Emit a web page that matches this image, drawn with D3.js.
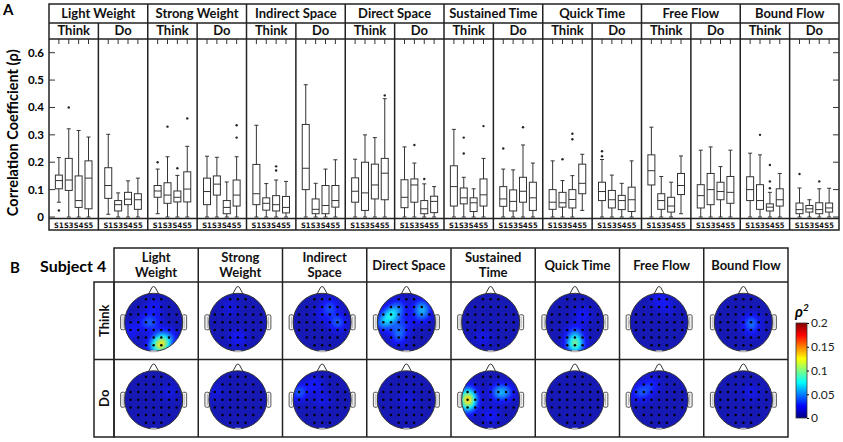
<!DOCTYPE html>
<html lang="en">
<head>
  <meta charset="UTF-8">
  <title>Correlation coefficients and topographic maps</title>
  <script src="https://d3js.org/d3.v7.min.js"></script>
  <style>
    body { margin: 0; background: #fff; }
    svg { display: block; font-family: Lato, 'Open Sans', 'DejaVu Sans', sans-serif; }
    .frame { fill: none; stroke: #222; stroke-width: 1.5; }
    .rule { stroke: #222; stroke-width: 1.5; }
    .hdr { font-weight: bold; font-size: 13px; text-anchor: middle; fill: #111; }
    .box { fill: none; stroke: #333; stroke-width: 1; }
  </style>
</head>
<body>
<svg width="843" height="442"></svg>
<script>
// ---------- data ----------
const efforts = ['Light Weight', 'Strong Weight', 'Indirect Space', 'Direct Space',
                 'Sustained Time', 'Quick Time', 'Free Flow', 'Bound Flow'];
const conditions = ['Think', 'Do'];
const subjects = ['S1', 'S3', 'S4', 'S5'];
const yTicks = [0, 0.1, 0.2, 0.3, 0.4, 0.5, 0.6];

// each box: [whisker low, q1, median, q3, whisker high, outliers]
const lightWeight = [
  [[0.054, 0.103, 0.133, 0.153, 0.217, [0.024]], [0, 0.097, 0.135, 0.214, 0.322, [0.40]],
   [0, 0.035, 0.06, 0.15, 0.316, []], [0, 0.03, 0.142, 0.205, 0.292, []]],
  [[0.01, 0.068, 0.115, 0.18, 0.302, []], [0, 0.022, 0.045, 0.06, 0.088, []],
   [0, 0.045, 0.065, 0.09, 0.132, []], [0, 0.028, 0.063, 0.085, 0.142, []]]
];
const strongWeight = [
  [[0.012, 0.072, 0.095, 0.115, 0.175, [0.2]], [0, 0.05, 0.08, 0.125, 0.22, [0.33]],
   [0, 0.055, 0.072, 0.095, 0.152, [0.178]], [0, 0.055, 0.102, 0.165, 0.258, [0.36]]],
  [[0, 0.045, 0.093, 0.142, 0.222, []], [0, 0.08, 0.12, 0.15, 0.218, []],
   [0, 0.012, 0.035, 0.06, 0.128, []], [0, 0.04, 0.08, 0.135, 0.22, [0.29, 0.335]]]
];
const indirectSpace = [
  [[0, 0.045, 0.085, 0.192, 0.335, []], [0, 0.025, 0.05, 0.07, 0.122, []],
   [0, 0.022, 0.045, 0.078, 0.135, [0.17, 0.185]], [0, 0.015, 0.035, 0.075, 0.13, []]],
  [[0, 0.10, 0.178, 0.338, 0.483, []], [0, 0.012, 0.028, 0.066, 0.123, []],
   [0, 0.012, 0.042, 0.115, 0.175, []], [0, 0.036, 0.06, 0.115, 0.209, []]]
];
const directSpace = [
  [[0, 0.054, 0.094, 0.143, 0.211, []], [0, 0.024, 0.088, 0.2, 0.3, []],
   [0, 0.066, 0.117, 0.193, 0.29, []], [0, 0.063, 0.16, 0.214, 0.432, [0.444]]],
  [[0, 0.034, 0.072, 0.136, 0.256, []], [0, 0.054, 0.117, 0.139, 0.197, [0.263]],
   [0, 0.012, 0.03, 0.06, 0.121, [0.139]], [0, 0.016, 0.057, 0.076, 0.111, []]]
];
const sustainedTime = [
  [[0, 0.04, 0.111, 0.187, 0.32, []], [0, 0.048, 0.07, 0.106, 0.145, [0.232, 0.29]],
   [0, 0.02, 0.052, 0.07, 0.103, []], [0, 0.04, 0.081, 0.139, 0.214, [0.332]]],
  [[0, 0.039, 0.066, 0.111, 0.175, [0.25]], [0, 0.022, 0.057, 0.099, 0.172, []],
   [0, 0.054, 0.094, 0.145, 0.263, [0.328]], [0, 0.024, 0.07, 0.127, 0.197, []]]
];
const quickTime = [
  [[0, 0.028, 0.054, 0.1, 0.205, []], [0, 0.036, 0.052, 0.09, 0.133, [0.211]],
   [0, 0.033, 0.064, 0.1, 0.151, [0.284, 0.304]], [0.024, 0.085, 0.123, 0.193, 0.229, []]],
  [[0, 0.06, 0.093, 0.127, 0.21, [0.222, 0.24]], [0, 0.033, 0.063, 0.097, 0.153, []],
   [0, 0.027, 0.06, 0.079, 0.123, []], [0, 0.02, 0.063, 0.109, 0.205, []]]
];
const freeFlow = [
  [[0, 0.117, 0.169, 0.227, 0.328, []], [0, 0.028, 0.06, 0.085, 0.148, []],
   [0, 0.018, 0.04, 0.072, 0.127, []], [0.012, 0.082, 0.115, 0.159, 0.223, []]],
  [[0, 0.033, 0.078, 0.118, 0.244, []], [0, 0.045, 0.1, 0.159, 0.256, []],
   [0, 0.063, 0.093, 0.127, 0.184, []], [0, 0.05, 0.09, 0.148, 0.244, []]]
];
const boundFlow = [
  [[0, 0.06, 0.1, 0.147, 0.233, []], [0, 0.028, 0.06, 0.118, 0.227, [0.3]],
   [0, 0.022, 0.036, 0.048, 0.09, [0.105, 0.13, 0.19]], [0, 0.04, 0.063, 0.103, 0.159, []]],
  [[0, 0.012, 0.027, 0.051, 0.106, [0.157]], [0, 0.018, 0.03, 0.042, 0.063, []],
   [0, 0.012, 0.027, 0.052, 0.103, [0.13]], [0, 0.018, 0.033, 0.051, 0.105, []]]
];
const boxData = [lightWeight, strongWeight, indirectSpace, directSpace,
                 sustainedTime, quickTime, freeFlow, boundFlow];

// panel B
const mapHeaders = [['Light', 'Weight'], ['Strong', 'Weight'], ['Indirect', 'Space'], ['Direct Space'],
                    ['Sustained', 'Time'], ['Quick Time'], ['Free Flow'], ['Bound Flow']];
const electrodeRows = [
  ['Fp1', 'Fpz', 'Fp2'],
  ['AF7', 'AF3', 'AFz', 'AF4', 'AF8'],
  ['F5', 'F3', 'F1', 'Fz', 'F2', 'F4', 'F6'],
  ['C5', 'C3', 'C1', 'Cz', 'C2', 'C4', 'C6'],
  ['CP5', 'CP3', 'CP1', 'CPz', 'CP2', 'CP4', 'CP6'],
  ['P3', 'P1', 'Pz', 'P2', 'P4'],
  ['O1', 'Oz', 'O2']
];
const baseRho2 = 0.008;
// elevated electrodes (rho^2), everything else sits at baseRho2
const thinkMaps = [
  { O2: 0.095, Oz: 0.035, P2: 0.035, P4: 0.03, C1: 0.03, Cz: 0.025, AFz: 0.025, CP5: 0.025 },
  { Pz: 0.025, AF3: 0.018 },
  { AF4: 0.035, C4: 0.04, Fz: 0.018 },
  { F3: 0.065, C5: 0.05, AF3: 0.035, AF8: 0.045, F4: 0.035, CP1: 0.032, P1: 0.028, Cz: 0.02 },
  { P1: 0.02 },
  { Oz: 0.075, Pz: 0.045, CPz: 0.02, F2: 0.025 },
  { Fpz: 0.022, AF4: 0.018 },
  { C2: 0.04, CP2: 0.018 }
];
const doMaps = [
  { F4: 0.018 },
  { F5: 0.018 },
  { F5: 0.04, AF3: 0.025, Cz: 0.02 },
  { Cz: 0.018 },
  { C5: 0.105, F5: 0.04, CP5: 0.035, F2: 0.045, F4: 0.035, Pz: 0.025 },
  {},
  { F3: 0.03, AF3: 0.025, F5: 0.022 },
  { F2: 0.02 }
];
const colorTicks = [0, 0.05, 0.1, 0.15, 0.2];

// ---------- panel A ----------
const svg = d3.select('svg');
const A = { left: 49, right: 839, top: 4, row1: 23, row2: 39, bottom: 218.5, foot: 230 };

svg.append('text').attr('x', 3).attr('y', 15)
  .attr('font-weight', 'bold').attr('font-size', 15).text('A');

const catX = d3.scaleBand().domain(efforts).range([A.left, A.right]);
const panelX = d3.scaleBand().domain(d3.range(16)).range([A.left, A.right]);
const subjX = d3.scalePoint().domain(subjects).range([0, panelX.bandwidth()]).padding(1);
const y = d3.scaleLinear().domain([0, 0.65]).range([217, 39]);

const gA = svg.append('g');
gA.append('rect').attr('class', 'frame')
  .attr('x', A.left).attr('y', A.top)
  .attr('width', A.right - A.left).attr('height', A.foot - A.top);
[A.row1, A.row2, A.bottom].forEach(yy => {
  gA.append('line').attr('class', 'rule')
    .attr('x1', A.left).attr('x2', A.right).attr('y1', yy).attr('y2', yy);
});
d3.range(1, 16).forEach(i => {
  const x = panelX(i);
  gA.append('line').attr('class', 'rule')
    .attr('x1', x).attr('x2', x)
    .attr('y1', i % 2 === 0 ? A.top : A.row1).attr('y2', A.foot);
});

gA.selectAll('.cat').data(efforts).join('text')
  .attr('class', 'hdr').attr('x', d => catX(d) + catX.bandwidth() / 2).attr('y', 18)
  .text(d => d);
gA.selectAll('.cond').data(d3.range(16)).join('text')
  .attr('class', 'hdr').attr('x', i => panelX(i) + panelX.bandwidth() / 2).attr('y', 35)
  .text(i => conditions[i % 2]);

// y axis ticks and labels
yTicks.forEach(t => {
  gA.append('line').attr('stroke', '#333')
    .attr('x1', A.left).attr('x2', A.left + 6).attr('y1', y(t)).attr('y2', y(t));
  gA.append('line').attr('stroke', '#333')
    .attr('x1', A.right - 6).attr('x2', A.right).attr('y1', y(t)).attr('y2', y(t));
  gA.append('text').attr('x', 44).attr('y', y(t)).attr('dy', '0.35em')
    .attr('text-anchor', 'end').attr('font-weight', 'bold').attr('font-size', 11.5)
    .text(t === 0 ? '0' : d3.format('.1f')(t));
});
gA.append('text')
  .attr('transform', `translate(18,${(A.row2 + A.bottom) / 2 + 4}) rotate(-90)`)
  .attr('text-anchor', 'middle').attr('font-weight', 'bold').attr('font-size', 14.5)
  .text('Correlation Coefficient (ρ)');

// boxes
const records = [];
boxData.forEach((eff, ei) => eff.forEach((cond, ci) => cond.forEach((b, si) => {
  records.push({ panel: ei * 2 + ci, subject: subjects[si],
    low: b[0], q1: b[1], med: b[2], q3: b[3], high: b[4], out: b[5] });
})));
const bw = 7, cap = 4;
const boxes = gA.selectAll('.bx').data(records).join('g')
  .attr('transform', d => `translate(${panelX(d.panel) + subjX(d.subject)},0)`);

boxes.append('line').attr('stroke', '#333')
  .attr('y1', A.row2).attr('y2', A.row2 + 5);
boxes.append('line').attr('stroke', '#333')
  .attr('y1', d => y(d.low)).attr('y2', d => y(d.q1));
boxes.append('line').attr('stroke', '#333')
  .attr('y1', d => y(d.q3)).attr('y2', d => y(d.high));
boxes.append('line').attr('stroke', '#333')
  .attr('x1', -cap / 2).attr('x2', cap / 2).attr('y1', d => y(d.high)).attr('y2', d => y(d.high));
boxes.append('line').attr('stroke', '#333')
  .attr('x1', -cap / 2).attr('x2', cap / 2).attr('y1', d => y(d.low)).attr('y2', d => y(d.low));
boxes.append('rect').attr('class', 'box')
  .attr('x', -bw / 2).attr('width', bw)
  .attr('y', d => y(d.q3)).attr('height', d => y(d.q1) - y(d.q3));
boxes.append('line').attr('stroke', '#333')
  .attr('x1', -bw / 2).attr('x2', bw / 2).attr('y1', d => y(d.med)).attr('y2', d => y(d.med));
boxes.selectAll('circle').data(d => d.out).join('circle')
  .attr('r', 1.2).attr('cy', d => y(d)).attr('fill', '#222');
boxes.append('text')
  .attr('y', 227.5).attr('text-anchor', 'middle')
  .attr('font-family', "'Liberation Sans Narrow', 'DejaVu Sans Condensed', sans-serif")
  .attr('font-size', 7.5).attr('font-weight', 'bold').attr('fill', '#111')
  .text(d => d.subject);

// ---------- panel B ----------
const B = { left: 114, right: 788, hTop: 248, top: 282, bottom: 437, labelLeft: 94 };
svg.append('text').attr('x', 10).attr('y', 273)
  .attr('font-weight', 'bold').attr('font-size', 15).text('B');
svg.append('text').attr('x', 40).attr('y', 272)
  .attr('font-weight', 'bold').attr('font-size', 16).text('Subject 4');

const colX = d3.scaleBand().domain(efforts).range([B.left, B.right]);
const rowY = d3.scaleBand().domain(conditions).range([B.top, B.bottom]);
const gB = svg.append('g');

gB.append('rect').attr('class', 'frame')
  .attr('x', B.left).attr('y', B.hTop).attr('width', B.right - B.left).attr('height', B.bottom - B.hTop);
gB.append('rect').attr('class', 'frame')
  .attr('x', B.labelLeft).attr('y', B.top).attr('width', B.left - B.labelLeft).attr('height', B.bottom - B.top);
gB.append('line').attr('class', 'rule')
  .attr('x1', B.left).attr('x2', B.right).attr('y1', B.top).attr('y2', B.top);
gB.append('line').attr('class', 'rule')
  .attr('x1', B.labelLeft).attr('x2', B.right).attr('y1', rowY('Do')).attr('y2', rowY('Do'));
efforts.slice(1).forEach(e => {
  gB.append('line').attr('class', 'rule')
    .attr('x1', colX(e)).attr('x2', colX(e)).attr('y1', B.hTop).attr('y2', B.bottom);
});

mapHeaders.forEach((lines, i) => {
  const t = gB.append('text').attr('class', 'hdr').attr('font-size', 12.5)
    .attr('x', colX(efforts[i]) + colX.bandwidth() / 2);
  if (lines.length === 1) t.attr('y', 270).text(lines[0]);
  else lines.forEach((l, k) => t.append('tspan')
    .attr('x', colX(efforts[i]) + colX.bandwidth() / 2).attr('y', 262 + k * 15).text(l));
});
conditions.forEach(c => {
  gB.append('text').attr('class', 'hdr').attr('font-size', 13)
    .attr('transform', `translate(${B.labelLeft + 14.5},${rowY(c) + rowY.bandwidth() / 2}) rotate(-90)`)
    .text(c);
});

// jet colour scale
const jet = d3.scaleLinear()
  .domain([0, 0.025, 0.075, 0.125, 0.175, 0.2])
  .range(['#000080', '#0000ff', '#00ffff', '#ffff00', '#ff0000', '#800000'])
  .clamp(true);
const haze = d3.rgb(120, 140, 230), hazeMix = 0.18;

const R = 29, sp = R * 0.265, sigma = R * 0.21;
const electrodes = [];
electrodeRows.forEach((row, i) => row.forEach((name, j) => {
  electrodes.push({ name, x: (j - (row.length - 1) / 2) * sp, y: (i - 3) * sp });
}));

function topoImage(values) {
  const res = 2, n = 2 * R * res;
  const canvas = document.createElement('canvas');
  canvas.width = n; canvas.height = n;
  const ctx = canvas.getContext('2d');
  const img = ctx.createImageData(n, n);
  const hot = electrodes.filter(e => values[e.name] !== undefined)
    .map(e => ({ x: e.x, y: e.y, v: values[e.name] - baseRho2 }));
  for (let py = 0; py < n; py++) {
    for (let px = 0; px < n; px++) {
      const x = px / res - R, yy = py / res - R;
      let v = baseRho2;
      hot.forEach(h => {
        const d2 = (x - h.x) ** 2 + (yy - h.y) ** 2;
        v += h.v * Math.exp(-d2 / (2 * sigma * sigma));
      });
      const c = d3.rgb(jet(v));
      const k = (py * n + px) * 4;
      img.data[k] = c.r * (1 - hazeMix) + haze.r * hazeMix;
      img.data[k + 1] = c.g * (1 - hazeMix) + haze.g * hazeMix;
      img.data[k + 2] = c.b * (1 - hazeMix) + haze.b * hazeMix;
      img.data[k + 3] = 255;
    }
  }
  ctx.putImageData(img, 0, 0);
  return canvas.toDataURL();
}

const defs = svg.append('defs');
defs.append('clipPath').attr('id', 'headClip')
  .append('circle').attr('r', R);

function drawHead(g, values) {
  // nose
  g.append('path')
    .attr('d', `M${-5.5},${-R + 1.5} L${-1.5},${-R - 6} Q0,${-R - 7.5} 1.5,${-R - 6} L5.5,${-R + 1.5}`)
    .attr('fill', '#fff').attr('stroke', '#333').attr('stroke-width', 1);
  // ears
  [-1, 1].forEach(s => {
    g.append('rect').attr('x', s < 0 ? -R - 4 : R - 0.5).attr('y', -7.5).attr('width', 4.5).attr('height', 15)
      .attr('rx', 1.5).attr('fill', '#f2f2f2').attr('stroke', '#444').attr('stroke-width', 0.9);
    g.append('line').attr('x1', s * (R + 1.5)).attr('x2', s * (R + 1.5)).attr('y1', -5.5).attr('y2', 5.5)
      .attr('stroke', '#999').attr('stroke-width', 0.7);
  });
  g.append('image').attr('href', topoImage(values))
    .attr('x', -R).attr('y', -R).attr('width', 2 * R).attr('height', 2 * R)
    .attr('clip-path', 'url(#headClip)');
  g.append('circle').attr('r', R).attr('fill', 'none').attr('stroke', '#333').attr('stroke-width', 1);
  g.append('rect').attr('x', -3).attr('y', R - 1).attr('width', 6).attr('height', 2)
    .attr('fill', '#bbb');
  g.selectAll('.el').data(electrodes).join('circle')
    .attr('cx', d => d.x).attr('cy', d => d.y).attr('r', 1.25).attr('fill', '#000');
}

conditions.forEach((c, ci) => {
  const maps = ci === 0 ? thinkMaps : doMaps;
  efforts.forEach((e, ei) => {
    const g = gB.append('g').attr('transform',
      `translate(${colX(e) + colX.bandwidth() / 2 - 2.5},${rowY(c) + rowY.bandwidth() / 2 + 1.5})`);
    drawHead(g, maps[ei]);
  });
});

// colour bar
const cbY = d3.scaleLinear().domain([0, 0.2]).range([418, 323]);
const grad = defs.append('linearGradient').attr('id', 'jetGrad')
  .attr('x1', 0).attr('x2', 0).attr('y1', 1).attr('y2', 0);
jet.domain().forEach(v => grad.append('stop').attr('offset', v / 0.2).attr('stop-color', jet(v)));
svg.append('rect').attr('x', 796).attr('y', cbY(0.2)).attr('width', 11).attr('height', cbY(0) - cbY(0.2))
  .attr('fill', 'url(#jetGrad)').attr('stroke', '#333').attr('stroke-width', 0.8);
const cbAxis = svg.append('g').attr('transform', 'translate(807,0)')
  .call(d3.axisRight(cbY).tickValues(colorTicks).tickSize(2).tickPadding(2)
    .tickFormat(d => d === 0 ? '0' : String(d)));
cbAxis.select('.domain').remove();
cbAxis.selectAll('text').attr('font-size', 12).attr('font-family', "Lato, 'Open Sans', sans-serif").attr('fill', '#222');
const rho = svg.append('text').attr('x', 795).attr('y', 317)
  .attr('font-weight', 'bold').attr('font-style', 'italic').attr('font-size', 15).text('ρ');
rho.append('tspan').attr('font-size', 10).attr('dy', -6).text('2');
</script>
</body>
</html>
